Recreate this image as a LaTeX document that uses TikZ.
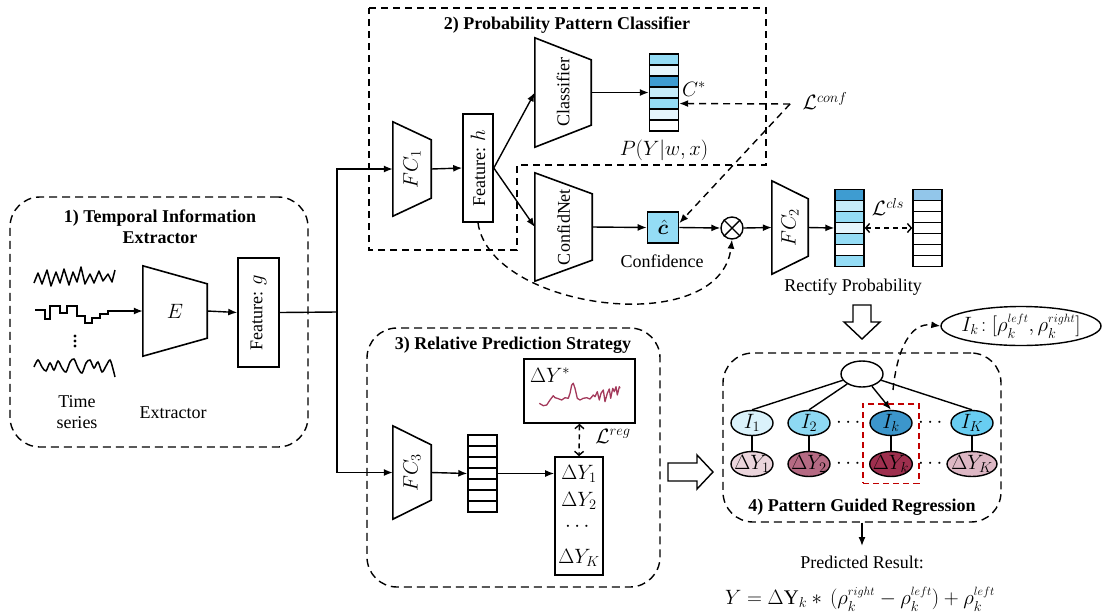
\documentclass[tikz,border=0pt]{standalone}
\usepackage{amsmath}
\usepackage{amssymb}
\usepackage{bm}
\usepackage{fontspec}
\setmainfont{Liberation Serif}
\DeclareMathSizes{18}{20.74}{14.4}{12}
\usepackage{tikz}
\usetikzlibrary{arrows.meta,shapes.geometric,fit}
\usepackage{xcolor}

\definecolor{sky}{HTML}{94DCF5}
\definecolor{pale}{HTML}{E6F6FD}
\definecolor{deep}{HTML}{3E9CD1}
\definecolor{ice}{HTML}{C5ECFA}
\definecolor{tgt}{HTML}{92C6EA}
\definecolor{lvA}{HTML}{DAF2FB}
\definecolor{lvB}{HTML}{8ED9F3}
\definecolor{lvC}{HTML}{3C96CB}
\definecolor{lvD}{HTML}{68CDF1}
\definecolor{dyA}{HTML}{EBD5DC}
\definecolor{dyB}{HTML}{B56A83}
\definecolor{dyC}{HTML}{9E2F4E}
\definecolor{dyD}{HTML}{DDB7C4}
\definecolor{plotred}{HTML}{A3395B}
\definecolor{selred}{HTML}{C00000}

\tikzset{
  blk/.style={draw, line width=1.6pt, inner sep=0pt},
  region/.style={draw, line width=1.4pt, dash pattern=on 8pt off 5pt, rounded corners=30pt, inner sep=0pt},
  dsh/.style={line width=1.4pt, dash pattern=on 7pt off 5pt},
  conn/.style={line width=1.4pt, -{Latex[length=9pt,width=7pt]}},
  dbl/.style={line width=1.4pt, dash pattern=on 5pt off 4pt, {Straight Barb[length=4pt,width=9pt]}-{Straight Barb[length=4pt,width=9pt]}},
  cell/.style={draw, line width=1.4pt, minimum width=29pt, minimum height=11pt, inner sep=0pt},
  tnode/.style={ellipse, draw, line width=1.4pt, minimum width=42pt, minimum height=25pt, inner sep=-3pt},
  ttl/.style={font=\bfseries},
}

% name, x, y, width, height, inset, text angle, text
\newcommand{\trapnode}[8]{%
  \node[minimum width=#4pt, minimum height=#5pt, inner sep=0pt] (#1) at (#2,#3) {};
  \draw[line width=1.6pt] (#1.north west) -- ([yshift=-#6pt]#1.north east)
    -- ([yshift=#6pt]#1.south east) -- (#1.south west) -- cycle;
  \node[rotate=#7] at (#1) {#8};}
\newcommand{\sm}[1]{{\scriptscriptstyle #1}}

\begin{document}
\fontsize{18}{21}\selectfont
\begin{tikzpicture}[x=1pt, y=-1pt]
\useasboundingbox (0,0) rectangle (1106,614);
% dashed regions
\node[region, minimum width=298pt, minimum height=250pt] (b1) at (159,322) {};
\draw[dsh] (369,8) -- (766,8) -- (766,165) -- (517,165) -- (517,250) -- (369,250) -- cycle;
\node[region, minimum width=293pt, minimum height=259pt] (b3) at (513.5,457.5) {};
\node[region, minimum width=278pt, minimum height=169pt] (b4) at (862,437.5) {};
\node[ttl, align=center] at (160,227) {1) Temporal Information\\Extractor};
\node[ttl] at (567,25) {2) Probability Pattern Classifier};
\node[ttl] at (513,345) {3) Relative Prediction Strategy};
\node[ttl] at (862,507) {4) Pattern Guided Regression};

% 1) time series and extractor
\draw[line width=1.5pt, line join=round] (34,283) -- (38,273) -- (42,284) -- (47,270) -- (51,286) -- (56,272) -- (60,283) -- (64,269) -- (69,285) -- (73,272) -- (77,282) -- (81,267) -- (85,284) -- (90,274) -- (94,283) -- (99,271) -- (103,281) -- (108,274) -- (112,282) -- (115,270);
\coordinate (ts) at (115,311);
\draw[line width=1.5pt] (35,310) -- (45,310) -- (45,319) -- (50,319) -- (50,306) -- (60,306) -- (60,313) -- (67,313) -- (67,306) -- (77,306) -- (77,316) -- (85,316) -- (85,323) -- (92,323) -- (92,318) -- (100,318) -- (100,314) -- (108,314) -- (108,311) -- (ts);
\fill (75,336) circle (1.7) (75,341) circle (1.7) (75,346) circle (1.7);
\draw[line width=1.5pt] plot[smooth, tension=0.5] coordinates {(34,367) (38,360) (42,367) (46,371) (50,363) (54,370) (58,361) (62,368) (66,372) (70,362) (74,359) (78,368) (82,373) (86,363) (90,360) (94,368) (98,362) (102,372) (106,366) (110,360) (113,369) (115,377)};
\node[align=center] at (77,412) {Time\\series};
\node at (173,413) {Extractor};
\trapnode{enc}{175}{311}{64}{90}{18}{0}{$E$}
\node[blk, minimum width=41pt, minimum height=109pt] (fg) at (258.5,312.5) {};
\node[rotate=90] at (fg) {Feature: $g$};
\draw[conn] (ts) -- (enc.west);
\draw[conn] (enc.east) -- (fg.west);
\coordinate (split) at (337,312);
\draw[line width=1.4pt] (fg.east) -- (split);

% 2) classifier and confidence
\trapnode{fc1}{412}{169}{38}{94}{18}{90}{$FC_1$}
\node[blk, minimum width=30pt, minimum height=108pt] (fh) at (478,168) {};
\node[rotate=90] at (fh) {Feature: $h$};
\trapnode{cls}{563}{92.5}{56}{109}{22}{90}{Classifier}
\trapnode{cnf}{563.5}{227}{57}{108}{21}{90}{ConfidNet}
\draw[conn] (split) |- (fc1.west);
\draw[conn] (fc1.east) -- (fh.west);
\draw[conn] (fh.east) -- (cls.west);
\draw[conn] (fh.east) -- (cnf.west);
\foreach \c [count=\i] in {sky,pale,deep,ice,sky,pale,white}
  \node[cell, fill=\c] (p\i) at (664,48.5+11*\i) {};
\draw[conn] (cls.east) -- (p4.west);
\node at (694,89) {$C^*$};
\node at (664,150) {$P(Y|w,x)$};
\node[blk, fill=sky, minimum size=31pt] (chat) at (663,227.5) {$\bm{\hat{c}}$};
\node at (662,261) {Confidence};
\draw[conn] (cnf.east) -- (chat.west);
\node[draw, circle, line width=1.4pt, minimum size=22pt, inner sep=0pt] (ot) at (732,228) {};
\draw[line width=1.4pt] (ot.45) -- (ot.225) (ot.135) -- (ot.315);
\draw[conn] (chat.east) -- (ot.west);
\trapnode{fc2}{790}{227.5}{36}{93}{18}{90}{$FC_2$}
\draw[conn] (ot.east) -- (fc2.west);
\foreach \c [count=\i] in {deep,ice,sky,pale,sky,white,sky}
  \node[cell, fill=\c] (q\i) at (849.5,184+11*\i) {};
\foreach \c [count=\i] in {tgt,white,white,white,white,white,white}
  \node[cell, fill=\c] (r\i) at (927.5,184+11*\i) {};
\draw[conn] (fc2.east) -- (q4.west);
\draw[dbl] (q4.east) -- (r4.west);
\node at (888,207) {$\mathcal{L}^{cls}$};
\node at (853,287) {Rectify Probability};
\node (lconf) at (825,101) {$\mathcal{L}^{conf}$};
\coordinate (cf) at (790,104);
\draw[dsh, conn] (cf) -- (p5.east);
\draw[dsh, conn] (cf) -- (chat.15);
\draw[dsh, conn] (fh.south) .. controls (490,310) and (720,340) .. (ot.south);

% 3) relative prediction
\trapnode{fc3}{412}{472.5}{38}{93}{19}{90}{$FC_3$}
\draw[conn] (split) |- (fc3.west);
\foreach \i in {1,...,7}
  \node[cell] (s\i) at (482.5,429.5+11*\i) {};
\draw[conn] (fc3.east) -- (s4.west);
\node[blk, minimum width=48pt, minimum height=118pt] (dl) at (579,516) {};
\draw (579,474) node {$\Delta Y_1$} +(0,27) node {$\Delta Y_2$} +(0,53) node {$\cdots$} +(0,84) node {$\Delta Y_K$};
\draw[conn] (s4.east) -- (s4.east -| dl.west);
\node[blk, minimum width=111pt, minimum height=64pt] (dys) at (579.5,391) {};
\node at (550,375) {$\Delta Y^*$};
\draw[plotred, line width=1.3pt, line join=round] plot coordinates {(539.3,403.3) (543.3,405.7) (546.7,405) (550,400) (553.3,395.7) (555,397.7) (557.3,398.3) (561.7,400) (565,397.7) (568.3,398.3) (570,393.3) (571.7,385) (573.3,383.3) (575,388.3) (577.3,398.3) (580,400) (583.3,398.3) (586.7,397.7) (590,399) (593.3,395) (595,396.7) (597.3,391.7) (599.3,400) (601,393.3) (603.3,390) (605,401.7) (607.3,393.3) (609.3,389) (610.7,398.3) (612.7,388.3) (614.3,391.7) (616,386.7) (617.3,395) (619.3,386.7) (620,388.3)};
\draw[dbl] (dys.south) -- (dl.north);
\node at (613,436) {$\mathcal{L}^{reg}$};
\draw[line width=1.4pt] (668,463) -- (697,463) -- (697,455) -- (713,472) -- (697,489) -- (697,481) -- (668,481) -- cycle;
\draw[line width=1.4pt] (853,305) -- (871,305) -- (871,322) -- (880,322) -- (862,339) -- (844,322) -- (853,322) -- cycle;

% 4) pattern guided regression
\node[tnode, minimum width=42pt, minimum height=26pt] (rt) at (862,374) {};
\node[tnode, fill=lvA] (i1) at (752,423) {$I_1$};
\node[tnode, fill=lvB] (i2) at (809,423) {$I_2$};
\node[tnode, fill=lvC] (ik) at (891,423) {$I_k$};
\node[tnode, fill=lvD] (iK) at (972,423) {$I_K$};
\node[tnode, fill=dyA] (d1) at (752,464) {$\Delta Y_1$};
\node[tnode, fill=dyB] (d2) at (809,464) {$\Delta Y_2$};
\node[tnode, fill=dyC] (dk) at (891,464) {$\Delta Y_k$};
\node[tnode, fill=dyD] (dK) at (972,464) {$\Delta Y_K$};
\foreach \n in {i1,i2,iK} \draw[line width=1.4pt] (rt) -- (\n.north);
\draw[conn] (rt) -- (ik.north);
\foreach \n in {1,2,k,K} \draw[line width=1.4pt] (i\n) -- (d\n);
\foreach \y in {423,464} \draw (850,\y) node {$\cdots$} (932,\y) node {$\cdots$};
\node[fit=(ik)(dk), draw=selred, dash pattern=on 6pt off 4pt, line width=1.4pt, inner sep=6pt] (sel) {};
\node[draw, ellipse, line width=1.4pt, minimum width=160pt, minimum height=39pt, inner sep=0pt] (lab) at (1021,326) {};
\node at (lab) {$I_k\!:[\rho_k^{\sm{left}},\rho_k^{\sm{right}}]$};
\coordinate (kk) at (893,390);
\draw[dsh, conn] (kk) .. controls (897,350) and (910,322) .. (lab.west);
\coordinate (pe) at (862,546);
\draw[conn] (b4.south) -- (pe);
\node at (862,562) {Predicted Result:};
\node at (860,599) {$Y=\Delta\mathrm{Y}_k*\,(\rho_k^{\sm{right}}-\rho_k^{\sm{left}})+\rho_k^{\sm{left}}$};
\end{tikzpicture}
\end{document}
